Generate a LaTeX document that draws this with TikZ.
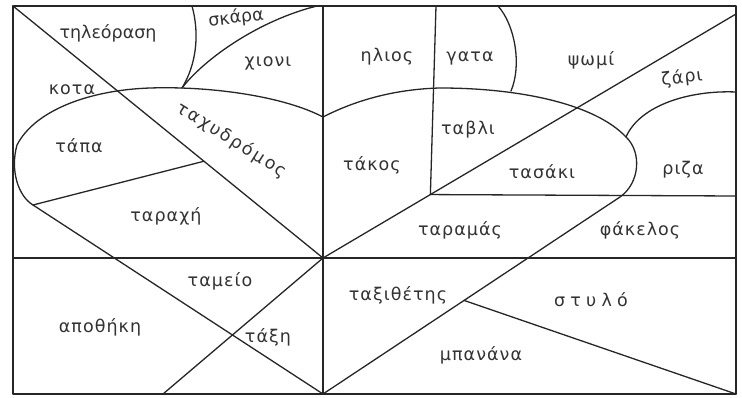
\documentclass[tikz,border=0pt]{standalone}
\usepackage{fontspec}
\setmainfont{DejaVu Sans}
\usetikzlibrary{calc}
\begin{document}
\begin{tikzpicture}[x=1pt,y=-1pt,
  ln/.style={draw=black!85, line width=1.3pt, line cap=round, line join=round},
  lbl/.style={font=\fontsize{17.5}{20}\selectfont\addfontfeature{LetterSpace=6}, text=black!80, inner sep=0pt}]
\useasboundingbox (0,0) rectangle (742,398);
\fill[white] (0,0) rectangle (742,398);
% coordinates
\coordinate (tl) at (13,6);
\coordinate (br) at (736,394);
\coordinate (c) at (323,258);
\coordinate (vt) at (323,6);
\coordinate (vb) at (323,394);
\coordinate (hl) at (13,258);
\coordinate (hr) at (736,258);
\coordinate (dr) at (736,14);
\coordinate (p) at ($(c)!0.26!(dr)$);
\coordinate (v2) at (436,6);
\coordinate (h2) at (736,196);
\coordinate (lb) at (163,394);
\coordinate (cusp) at (323,117);
\coordinate (hleft) at (33,205);
\coordinate (hright) at (620,197);
\coordinate (rz) at (626,137);
\coordinate (kp) at ($(tl)!0.616!(c)$);
\coordinate (ms) at ($(vb)!0.475!(hright)$);
\coordinate (sk) at (192,6);
\coordinate (sk2) at (182,88);
\coordinate (xi) at (317,6);
\coordinate (ga1) at (498,6);
\coordinate (ga2) at (511,91);
\coordinate (rz2) at (736,92);
% frame and straight lines
\draw[ln] (tl) rectangle (br);
\draw[ln] (vt) -- (vb);
\draw[ln] (hl) -- (hr);
\draw[ln] (tl) -- (c) -- (dr);
\draw[ln] (c) -- (lb);
\draw[ln] (v2) -- (p) -- (h2);
% heart
\draw[ln] (cusp) .. controls (283,96) and (210,86) .. (150,88)
  .. controls (90,90) and (35,110) .. (17,145)
  .. controls (10,170) and (18,196) .. (hleft) -- (vb) -- (hright)
  .. controls (640,183) and (642,152) .. (rz)
  .. controls (595,104) and (520,88) .. (440,88)
  .. controls (400,89) and (360,98) .. (cusp);
% other curves
\draw[ln] (kp) -- (hleft);
\draw[ln] (sk) .. controls (200,35) and (196,65) .. (sk2);
\draw[ln] (sk2) .. controls (205,58) and (260,20) .. (xi);
\draw[ln] (ga1) .. controls (515,25) and (522,65) .. (ga2);
\draw[ln] (rz) .. controls (640,105) and (690,90) .. (rz2);
\draw[ln] (ms) -- (br);
% labels
\node[lbl] (t1) at (108,33) {\addfontfeature{LetterSpace=0}τηλεόραση};
\node[lbl, rotate=7] (t2) at (236,18) {\addfontfeature{LetterSpace=0}σκάρα};
\node[lbl] (t3) at (268,63) {χιονι};
\node[lbl] (t4) at (72,90) {κοτα};
\node[lbl] (t5) at (79,146) {τάπα};
\node[lbl, rotate=-32] (t6) at (232,140) {\addfontfeature{LetterSpace=12}ταχυδρόμος};
\node[lbl] (t7) at (166,216) {ταραχή};
\node[lbl] (t8) at (220,281) {ταμείο};
\node[lbl] (t9) at (100,327) {αποθήκη};
\node[lbl] (t10) at (268,337) {τάξη};
\node[lbl] (t11) at (387,57) {ηλιος};
\node[lbl] (t12) at (470,58) {γατα};
\node[lbl] (t13) at (591,60) {ψωμί};
\node[lbl, rotate=7] (t14) at (682,78) {ζάρι};
\node[lbl] (t15) at (468,130) {ταβλι};
\node[lbl] (t16) at (542,172) {τασάκι};
\node[lbl] (t17) at (683,170) {ριζα};
\node[lbl] (t18) at (372,165) {τάκος};
\node[lbl] (t19) at (460,230) {ταραμάς};
\node[lbl] (t20) at (640,230) {φάκελος};
\node[lbl] (t21) at (398,295) {ταξιθέτης};
\node[lbl] (t22) at (591,300) {\addfontfeature{LetterSpace=30}στυλό};
\node[lbl] (t23) at (481,355) {μπανάνα};
\end{tikzpicture}
\end{document}
